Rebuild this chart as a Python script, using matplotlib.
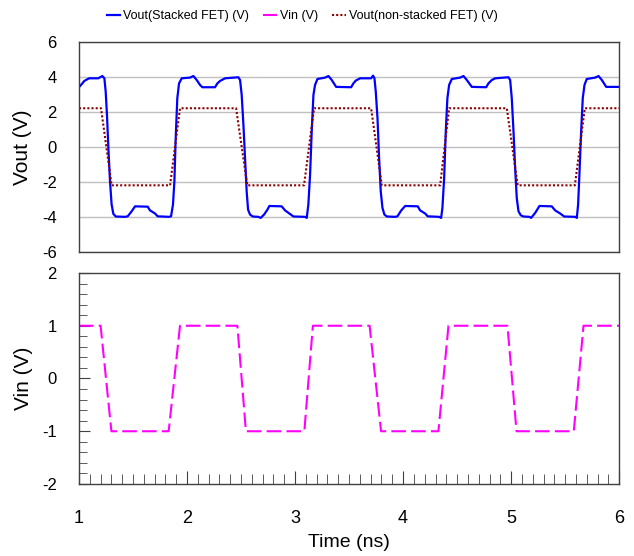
import numpy as np
import matplotlib
matplotlib.use('Agg')
import matplotlib.pyplot as plt
from matplotlib.ticker import MultipleLocator

plt.rcParams['font.family'] = ['Liberation Sans Narrow', 'Liberation Sans', 'DejaVu Sans']
plt.rcParams['axes.unicode_minus'] = False

# Vout of the stacked FET amplifier (V)
t_stack = [1.000, 1.031, 1.049, 1.093, 1.179, 1.216, 1.235, 1.247, 1.259, 1.272,
           1.287, 1.302, 1.318, 1.340, 1.426, 1.451, 1.488, 1.519, 1.636, 1.657,
           1.704, 1.728, 1.833, 1.852, 1.870, 1.883, 1.895, 1.910, 1.926, 1.951,
           2.028, 2.059, 2.090, 2.120, 2.142,
           2.259, 2.281, 2.306, 2.352, 2.475, 2.491, 2.506, 2.522, 2.537, 2.552,
           2.565, 2.583, 2.608, 2.660, 2.682, 2.713, 2.744, 2.762, 2.876, 2.907,
           2.947, 2.985, 3.093, 3.108, 3.123, 3.139, 3.154, 3.170, 3.185, 3.207,
           3.278, 3.309, 3.340, 3.380,
           3.519, 3.540, 3.562, 3.602, 3.704, 3.722, 3.735, 3.747, 3.763, 3.778,
           3.793, 3.809, 3.827, 3.849, 3.926, 3.948, 3.981, 4.019, 4.136, 4.157,
           4.204, 4.228, 4.333, 4.352, 4.364, 4.380, 4.395, 4.410, 4.426, 4.451,
           4.528, 4.559, 4.590, 4.636,
           4.769, 4.790, 4.821, 4.852, 4.975, 4.991, 5.006, 5.022, 5.037, 5.052,
           5.068, 5.089, 5.114, 5.170, 5.185, 5.222, 5.262, 5.376, 5.407, 5.454,
           5.491, 5.593, 5.608, 5.620, 5.632, 5.648, 5.663, 5.679, 5.700, 5.778,
           5.809, 5.840, 5.880, 6.000]
v_stack = [3.40, 3.62, 3.76, 3.91, 3.91, 4.04, 3.91, 3.15, 1.82, -0.08,
           -1.97, -3.30, -3.83, -3.98, -4.00, -3.97, -3.68, -3.40, -3.42, -3.63,
           -3.81, -3.97, -4.00, -3.97, -3.30, -1.97, 0.49, 2.77, 3.62, 3.91,
           3.95, 4.04, 3.81, 3.53, 3.40,
           3.40, 3.62, 3.76, 3.91, 3.97, 3.81, 2.96, 1.25, -0.65, -2.54,
           -3.59, -3.87, -3.98, -4.00, -4.06, -3.87, -3.59, -3.38, -3.40, -3.63,
           -3.81, -3.98, -4.00, -4.06, -3.30, -1.59, 0.87, 2.96, 3.53, 3.87,
           3.95, 4.04, 3.81, 3.42,
           3.40, 3.62, 3.78, 3.91, 3.91, 4.06, 3.91, 3.15, 1.63, -0.65,
           -2.54, -3.49, -3.87, -3.98, -4.00, -3.97, -3.65, -3.38, -3.40, -3.63,
           -3.81, -3.97, -4.00, -4.06, -3.49, -1.78, 0.87, 2.77, 3.53, 3.87,
           3.95, 4.04, 3.81, 3.42,
           3.40, 3.62, 3.81, 3.91, 3.97, 3.81, 2.77, 0.87, -1.21, -2.92,
           -3.68, -3.91, -3.98, -4.00, -4.06, -3.78, -3.38, -3.40, -3.63, -3.81,
           -3.98, -4.00, -4.06, -3.30, -1.59, 0.87, 2.77, 3.53, 3.87, 3.95,
           4.04, 3.81, 3.42, 3.42]

# Vout of the non-stacked FET (V)
t_nonstack = [1.0, 1.204, 1.302, 1.843, 1.935, 2.454, 2.558, 3.083, 3.176,
              3.704, 3.803, 4.343, 4.426, 4.960, 5.061, 5.590, 5.682, 6.0]
v_nonstack = [2.2, 2.2, -2.2, -2.2, 2.2, 2.2, -2.2, -2.2, 2.2,
              2.2, -2.2, -2.2, 2.2, 2.2, -2.2, -2.2, 2.2, 2.2]

# Vin (V)
t_in = [1.0, 1.20, 1.30, 1.83, 1.935, 2.466, 2.545, 3.086, 3.165,
        3.69, 3.796, 4.327, 4.42, 4.966, 5.05, 5.58, 5.67, 6.0]
v_in = [1, 1, -1, -1, 1, 1, -1, -1, 1,
        1, -1, -1, 1, 1, -1, -1, 1, 1]

fig = plt.figure(figsize=(6.34, 5.56), dpi=100)
ax1 = fig.add_axes([0.1246, 0.547, 0.852, 0.378])
ax2 = fig.add_axes([0.1246, 0.1295, 0.852, 0.3795])

frame_col = '#404040'

l1, = ax1.plot(t_stack, v_stack, color='#0000FF', lw=1.6)
l3, = ax1.plot(t_nonstack, v_nonstack, color='#8B0000', lw=1.5,
               linestyle=(0, (1, 1)))
l2, = ax2.plot(t_in, v_in, color='#FF00FF', lw=1.5, linestyle=(0, (7, 2.5)))

# top panel
ax1.set_xlim(1, 6)
ax1.set_ylim(-6, 6)
ax1.set_yticks([-6, -4, -2, 0, 2, 4, 6])
ax1.set_xticks([1, 2, 3, 4, 5, 6])
ax1.tick_params(axis='y', length=0, pad=16, labelsize=12)
ax1.tick_params(axis='x', length=0, labelbottom=False)
ax1.yaxis.grid(True, color='#C0C0C0', lw=1)
ax1.set_axisbelow(True)
ax1.set_ylabel('Vout (V)', fontsize=15, family=['Liberation Sans', 'DejaVu Sans'])
ax1.yaxis.set_label_coords(-0.087, 0.5)

# bottom panel
ax2.set_xlim(1, 6)
ax2.set_ylim(-2, 2)
ax2.set_yticks([-2, -1, 0, 1, 2])
ax2.xaxis.set_minor_locator(MultipleLocator(0.1))
ax2.yaxis.set_minor_locator(MultipleLocator(0.2))
ax2.tick_params(axis='x', which='major', direction='in', length=9.5, pad=19,
                labelsize=13, color=frame_col)
ax2.tick_params(axis='x', which='minor', direction='in', length=7, color=frame_col)
ax2.tick_params(axis='y', which='major', direction='in', length=8, pad=16,
                labelsize=12, color=frame_col)
ax2.tick_params(axis='y', which='minor', direction='in', length=5.5, color=frame_col)
ax2.set_ylabel('Vin (V)', fontsize=15, family=['Liberation Sans', 'DejaVu Sans'])
ax2.yaxis.set_label_coords(-0.085, 0.5)
ax2.set_xlabel('Time (ns)', fontsize=14, labelpad=5)

for ax in (ax1, ax2):
    for s in ax.spines.values():
        s.set_color(frame_col)
        s.set_linewidth(1)

fig.legend([l1, l2, l3],
           ['Vout(Stacked FET) (V)', 'Vin (V)', 'Vout(non-stacked FET) (V)'],
           loc='center left', bbox_to_anchor=(0.168, 0.971), frameon=False,
           ncol=3, fontsize=9, handlelength=1.1, handletextpad=0.25,
           columnspacing=1.1, borderpad=0, borderaxespad=0)

fig.savefig('out.png', dpi=100)
